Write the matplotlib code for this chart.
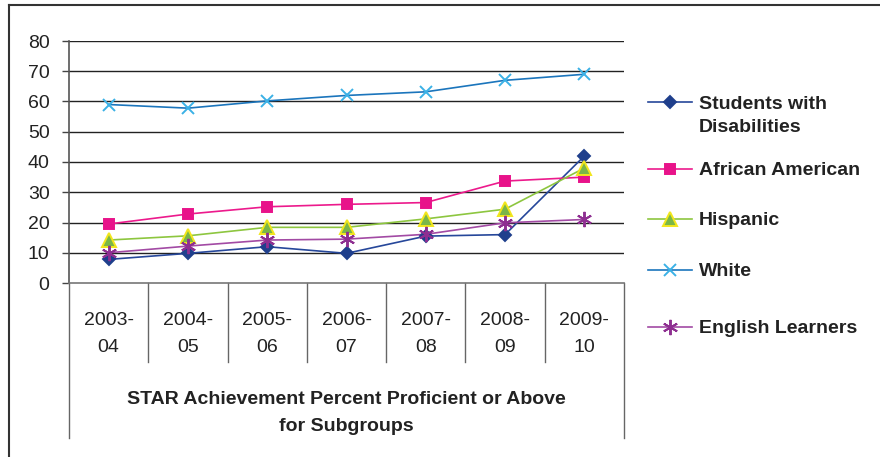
import numpy as np
import matplotlib
matplotlib.use('Agg')
import matplotlib.pyplot as plt
from matplotlib.lines import Line2D

plt.rcParams['font.family'] = ['Liberation Sans', 'DejaVu Sans']

# data
years = ['2003-\n04', '2004-\n05', '2005-\n06', '2006-\n07', '2007-\n08', '2008-\n09', '2009-\n10']
disab = [7.8, 9.8, 12.0, 9.8, 15.5, 16.0, 42.0]
afram = [19.5, 22.8, 25.2, 26.0, 26.6, 33.7, 35.0]
hisp = [14.2, 15.6, 18.4, 18.4, 21.2, 24.4, 38.0]
white = [59.0, 57.8, 60.2, 62.0, 63.2, 67.0, 69.0]
ell = [10.0, 12.2, 14.2, 14.5, 16.1, 19.9, 21.0]
yticks = [0, 10, 20, 30, 40, 50, 60, 70, 80]
title = 'STAR Achievement Percent Proficient or Above\nfor Subgroups'

W, H = 880, 457
fig = plt.figure(figsize=(W/100, H/100), dpi=100)

def fx(px): return px / W
def fy(py): return (H - py) / H

ax = fig.add_axes([fx(69), fy(283), fx(624) - fx(69), fy(41) - fy(283)])
x = np.arange(len(years))

# series styles: (values, label, line color, marker, marker face, marker edge, size)
series = [
    (disab, 'Students with\nDisabilities', '#26479a', 'D', '#1f3f8c', '#1f3f8c', 6.5),
    (afram, 'African American', '#ec1a8c', 's', '#e8138a', '#e8138a', 7.5),
    (hisp, 'Hispanic', '#8dc63f', '^', '#7ab648', '#f2e61c', 10.5),
    (white, 'White', '#1b75bc', 'x', '#3bb1e6', '#3bb1e6', 8),
    (ell, 'English Learners', '#a24aa4', (6, 2, 0), '#8e2f91', '#8e2f91', 11),
]

for vals, lab, lc, mk, mfc, mec, ms in series:
    ax.plot(x, vals, color=lc, lw=1.2, zorder=3)
    ax.plot(x, vals, linestyle='none', marker=mk, markersize=ms, mfc=mfc, mec=mec,
            mew=1.4, zorder=4)

ax.set_xlim(-0.5, len(years) - 0.5)
ax.set_ylim(0, 80)
ax.set_yticks(yticks)
ax.set_yticklabels([str(v) for v in yticks], fontsize=14, color='#222222')
ax.tick_params(axis='y', length=5, width=1, color='#444444', pad=9)
for v in yticks[1:]:
    ax.axhline(v, color='#222222', lw=1.0, zorder=1)

ax.set_xticks(x)
ax.set_xticklabels(years, fontsize=14, color='#222222', linespacing=1.74)
ax.tick_params(axis='x', length=0, pad=21)

for s in ['top', 'right']:
    ax.spines[s].set_visible(False)
ax.spines['left'].set_color('#555555')
ax.spines['left'].set_linewidth(1.2)
ax.spines['bottom'].set_color('#777777')
ax.spines['bottom'].set_linewidth(1.2)

# category separators below the axis
trans = ax.get_xaxis_transform()
axh = fy(41) - fy(283)
short = -(79 / H) / axh
long_ = -(155 / H) / axh
for i in range(len(years) + 1):
    xp = i - 0.5
    y1 = long_ if i in (0, len(years)) else short
    ax.plot([xp, xp], [0, y1], transform=trans, color='#666666', lw=1.0, clip_on=False)

fig.text(fx(346), fy(413), title, ha='center', va='center', fontsize=14,
         fontweight='bold', color='#222222', linespacing=1.7)

# legend drawn by hand
leg_y = [102, 169, 219, 270, 327]
for (vals, lab, lc, mk, mfc, mec, ms), py in zip(series, leg_y):
    fig.add_artist(Line2D([fx(648), fx(692)], [fy(py), fy(py)], color=lc, lw=1.2))
    fig.add_artist(Line2D([fx(670)], [fy(py)], linestyle='none', marker=mk, markersize=ms,
                          mfc=mfc, mec=mec, mew=1.4))
    ty = py + 14 if '\n' in lab else py + 1.5
    fig.text(fx(699), fy(ty), lab, ha='left', va='center',
             fontsize=14, fontweight='bold', color='#222222', linespacing=1.5)

# outer frame
fig.add_artist(Line2D([fx(8.5), fx(8.5)], [fy(5), 0], color='#333333', lw=1.5))
fig.add_artist(Line2D([fx(8.5), 1], [fy(5), fy(5)], color='#333333', lw=1.5))

fig.savefig('out.png', dpi=100)
